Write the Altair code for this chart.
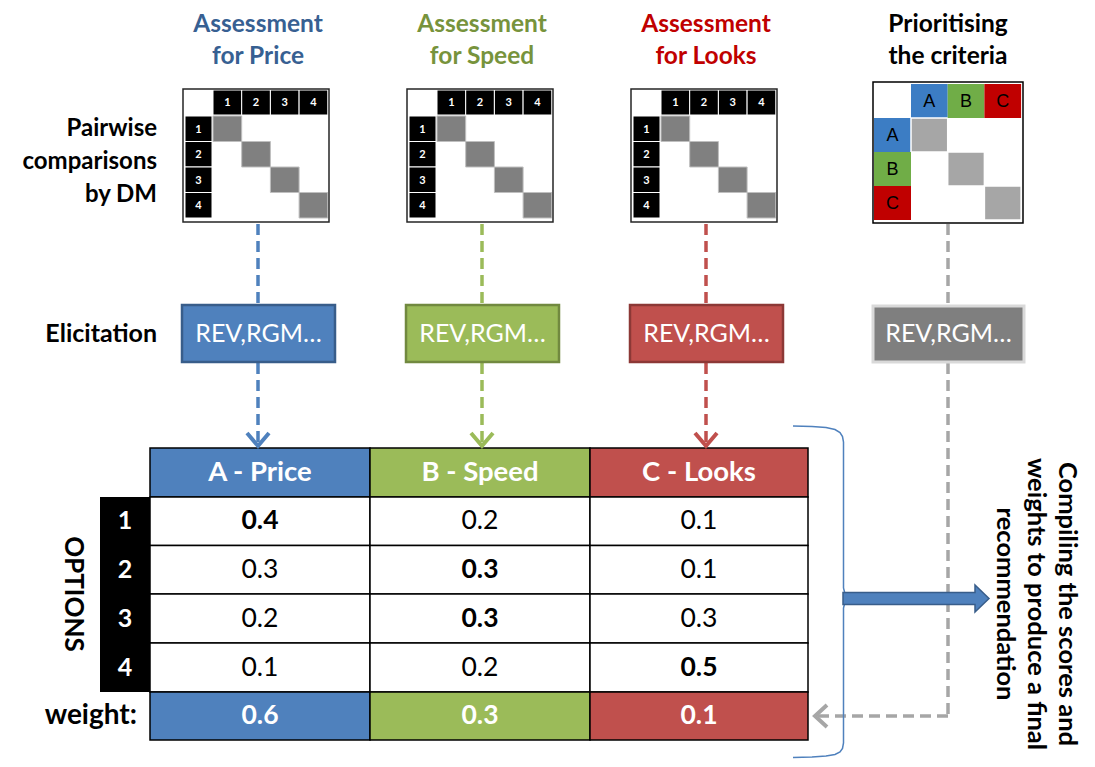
import altair as alt
import pandas as pd

# ---------------- data ----------------
criteria = ["Price", "Speed", "Looks"]
criteria_codes = ["A", "B", "C"]
table_headers = ["A - Price", "B - Speed", "C - Looks"]
options = ["1", "2", "3", "4"]
price_scores = [0.4, 0.3, 0.2, 0.1]
speed_scores = [0.2, 0.3, 0.3, 0.2]
looks_scores = [0.1, 0.1, 0.3, 0.5]
weights = [0.6, 0.3, 0.1]
matrix_labels = ["1", "2", "3", "4"]
method_label = "REV,RGM…"
left_labels = ["Pairwise", "comparisons", "by DM"]
right_lines = ["Compiling the scores and", "weights to produce a final", "recommendation"]

# ---------------- styles ----------------
fills = ["#4F81BD", "#9BBB59", "#C0504D"]
edges = ["#385D8A", "#71893F", "#8C3836"]
title_cols = ["#376092", "#77933C", "#C00000"]
crit_fills = ["#3C7DC4", "#70AD47", "#C00000"]
GREY = "#A6A6A6"
FONT = "Lato"

# ---------------- layout ----------------
W, H, M = 1079, 751, 8
col_cx = [258, 482, 706]
prio_cx = 948

xs = alt.Scale(domain=[M, M + W], nice=False, zero=False)
ys = alt.Scale(domain=[M, M + H], nice=False, zero=False, reverse=True)


def X(f):
    return alt.X(f, type="quantitative", scale=xs, axis=None)


def Y(f):
    return alt.Y(f, type="quantitative", scale=ys, axis=None)


rects, outlines = [], []
t_bold_c, t_bold_r, t_norm_c, t_arial, t_rot = [], [], [], [], []


def rect(x, x2, y, y2, fill, stroke="transparent", sw=0):
    rects.append(dict(x=x, x2=x2, y=y, y2=y2, fill=fill, stroke=stroke, sw=sw))


def txt(lst, x, y, text, color="#000000", size=24):
    lst.append(dict(x=x, y=y, text=text, color=color, size=size))


# titles
for c, cx in enumerate(col_cx):
    txt(t_bold_c, cx, 25, "Assessment", title_cols[c], 24.5)
    txt(t_bold_c, cx, 57, "for " + criteria[c], title_cols[c], 24.5)
txt(t_bold_c, prio_cx, 25, "Prioritising", "#000000", 24.5)
txt(t_bold_c, prio_cx, 57, "the criteria", "#000000", 24.5)

# left labels
for i, lab in enumerate(left_labels):
    txt(t_bold_r, 157, 129 + i * 33, lab, "#000000", 24)
txt(t_bold_r, 157, 334, "Elicitation", "#000000", 25)

# mini pairwise matrices
cw, ch = 28.7, 25.5
for p, cx in enumerate(col_cx):
    L = cx - 75
    for j, lab in enumerate(matrix_labels):
        x0 = L + 30 + j * cw
        rect(x0, x0 + cw, 90, 115, "#000000", "#FFFFFF", 1)
        txt(t_bold_c, x0 + cw / 2, 103, lab, "#FFFFFF", 11)
        y0 = 116 + j * ch
        rect(L + 2, L + 29, y0, y0 + ch, "#000000", "#FFFFFF", 1)
        txt(t_bold_c, L + 15.5, y0 + ch / 2 + 1, lab, "#FFFFFF", 11)
        rect(L + 30 + j * cw, L + 30 + (j + 1) * cw, y0, y0 + ch, "#808080", "#BFBFBF", 1)
    outlines.append(dict(x=L, x2=L + 146, y=89, y2=222, stroke="#262626", sw=1.5))

# criteria matrix
CL, CT = 873, 82
ccw, cch = 36.7, 34
for j, code in enumerate(criteria_codes):
    x0 = CL + 38 + j * ccw
    rect(x0, x0 + ccw, CT + 2, CT + 36, crit_fills[j])
    txt(t_arial, x0 + ccw / 2, CT + 20, code, "#000000", 18)
    y0 = CT + 36 + j * cch
    rect(CL + 1, CL + 38, y0, y0 + cch, crit_fills[j])
    txt(t_arial, CL + 19.5, y0 + cch / 2 + 1, code, "#000000", 18)
    rect(CL + 38 + j * ccw, CL + 38 + (j + 1) * ccw, y0, y0 + cch, GREY, "#FFFFFF", 1.5)
outlines.append(dict(x=CL, x2=CL + 150, y=CT, y2=CT + 141, stroke="#000000", sw=1.5))

# elicitation boxes
for c, cx in enumerate(col_cx):
    rect(cx - 76, cx + 77, 305, 362, fills[c], edges[c], 2.5)
    txt(t_norm_c, cx + 0.5, 334, method_label, "#FFFFFF", 25)
rect(prio_cx - 75, prio_cx + 76, 306, 362, "#7F7F7F", "#D9D9D9", 3)
txt(t_norm_c, prio_cx + 0.5, 334, method_label, "#FFFFFF", 25)

# table
tx = [150, 370, 590, 808]
ty = [448, 497, 545.5, 594, 643, 692, 740]
all_scores = [price_scores, speed_scores, looks_scores]
for c in range(3):
    cxm = (tx[c] + tx[c + 1]) / 2
    rect(tx[c], tx[c + 1], ty[0], ty[1], fills[c], "#000000", 1.5)
    txt(t_bold_c, cxm, (ty[0] + ty[1]) / 2, table_headers[c], "#FFFFFF", 27.5)
    best = max(all_scores[c])
    for r in range(4):
        rect(tx[c], tx[c + 1], ty[r + 1], ty[r + 2], "#FFFFFF", "#000000", 1.5)
        v = all_scores[c][r]
        lst = t_bold_c if v == best else t_norm_c
        txt(lst, cxm, (ty[r + 1] + ty[r + 2]) / 2, f"{v:.1f}", "#000000", 26.5)
    rect(tx[c], tx[c + 1], ty[5], ty[6], fills[c], "#000000", 1.5)
    txt(t_bold_c, cxm, (ty[5] + ty[6]) / 2, f"{weights[c]:.1f}", "#FFFFFF", 26.5)
rect(100, 150, ty[1], ty[5], "#000000")
for r, o in enumerate(options):
    txt(t_bold_c, 125, (ty[r + 1] + ty[r + 2]) / 2, o, "#FFFFFF", 25)
txt(t_bold_r, 137, (ty[5] + ty[6]) / 2, "weight:", "#000000", 28)
txt(t_rot, 73, 594, "OPTIONS", "#000000", 26)
for i, line in enumerate(right_lines):
    txt(t_rot, 1067 - i * 31, 604, line, "#000000", 25.5)

# dashed connectors
dashes = []
for c, cx in enumerate(col_cx):
    dashes.append(dict(x=cx, y=224, x2=cx, y2=305, c=fills[c]))
    dashes.append(dict(x=cx, y=363, x2=cx, y2=443, c=fills[c]))
dashes.append(dict(x=prio_cx, y=224, x2=prio_cx, y2=305, c=GREY))
dashes.append(dict(x=prio_cx, y=363, x2=prio_cx, y2=716, c=GREY))
dashes.append(dict(x=prio_cx, y=716, x2=818, y2=716, c=GREY))

chev = []
for c, cx in enumerate(col_cx):
    for o, (px, py) in enumerate([(cx - 11, 433), (cx, 446), (cx + 11, 433)]):
        chev.append(dict(id=c, o=o, x=px, y=py, c=fills[c]))
for o, (px, py) in enumerate([(827, 705), (815, 716), (827, 727)]):
    chev.append(dict(id=9, o=o, x=px, y=py, c=GREY))

# brace
brace_pts = [(793, 426), (812, 426.5), (826, 427.5), (835, 429.5), (840, 432.5), (842.5, 436.5),
             (843.5, 442), (843.5, 588), (845, 594), (847.5, 598), (845, 602), (843.5, 608),
             (843.5, 743), (842.5, 748.5), (840, 752), (835, 754.5), (826, 756),
             (812, 757), (793, 757.5)]
brace = pd.DataFrame([dict(o=i, x=p[0], y=p[1]) for i, p in enumerate(brace_pts)])

# thick block arrow drawn as one custom symbol centred between its ends
arrow_x0, arrow_x1, arrow_y = 843, 989, 598.5
half = (arrow_x1 - arrow_x0) / 2
body_h, head_h, head_len = 6.0, 13.5, 14.0
bh, hh, hx = body_h / half, head_h / half, 1 - head_len / half
arrow_path = (f"M-1,{-bh:.4f}L{hx:.4f},{-bh:.4f}L{hx:.4f},{-hh:.4f}L1,0"
              f"L{hx:.4f},{hh:.4f}L{hx:.4f},{bh:.4f}L-1,{bh:.4f}Z")
arrow = pd.DataFrame([dict(x=(arrow_x0 + arrow_x1) / 2, y=arrow_y)])

# ---------------- layers ----------------
rect_layer = alt.Chart(pd.DataFrame(rects)).mark_rect().encode(
    x=X("x"), x2="x2", y=Y("y"), y2="y2",
    fill=alt.Fill("fill:N", scale=None),
    stroke=alt.Stroke("stroke:N", scale=None),
    strokeWidth=alt.StrokeWidth("sw:Q", scale=None),
)
outline_layer = alt.Chart(pd.DataFrame(outlines)).mark_rect(fillOpacity=0).encode(
    x=X("x"), x2="x2", y=Y("y"), y2="y2",
    stroke=alt.Stroke("stroke:N", scale=None),
    strokeWidth=alt.StrokeWidth("sw:Q", scale=None),
)
dash_layer = alt.Chart(pd.DataFrame(dashes)).mark_rule(strokeDash=[11, 6], strokeWidth=3.5).encode(
    x=X("x"), x2="x2", y=Y("y"), y2="y2", color=alt.Color("c:N", scale=None)
)
chev_layer = alt.Chart(pd.DataFrame(chev)).mark_line(strokeWidth=4, strokeJoin="miter").encode(
    x=X("x"), y=Y("y"), detail="id:N", order="o:Q", color=alt.Color("c:N", scale=None)
)
brace_layer = alt.Chart(brace).mark_line(strokeWidth=1.5, color="#4F81BD").encode(
    x=X("x"), y=Y("y"), order="o:Q"
)
arrow_layer = alt.Chart(arrow).mark_point(
    shape=arrow_path, size=(2 * half) ** 2, filled=True, fill="#4F81BD", fillOpacity=1,
    stroke="#385D8A", strokeWidth=1.5, opacity=1,
).encode(x=X("x"), y=Y("y"))


def text_layer(rows, weight="bold", align="center", angle=0, font=FONT):
    return alt.Chart(pd.DataFrame(rows)).mark_text(
        font=font, fontWeight=weight, align=align, baseline="middle", angle=angle
    ).encode(
        x=X("x"), y=Y("y"), text="text:N",
        color=alt.Color("color:N", scale=None),
        size=alt.Size("size:Q", scale=None),
    )


chart = alt.layer(
    dash_layer,
    rect_layer,
    outline_layer,
    chev_layer,
    brace_layer,
    arrow_layer,
    text_layer(t_bold_c),
    text_layer(t_bold_r, align="right"),
    text_layer(t_norm_c, weight="normal"),
    text_layer(t_arial, weight="normal", font="Liberation Sans"),
    text_layer(t_rot, angle=90),
).properties(
    width=W, height=H, padding=0,
    autosize=alt.AutoSizeParams(type="none"),
).configure_view(stroke=None)

chart.save("out.html", embed_options={"renderer": "svg", "actions": False})
